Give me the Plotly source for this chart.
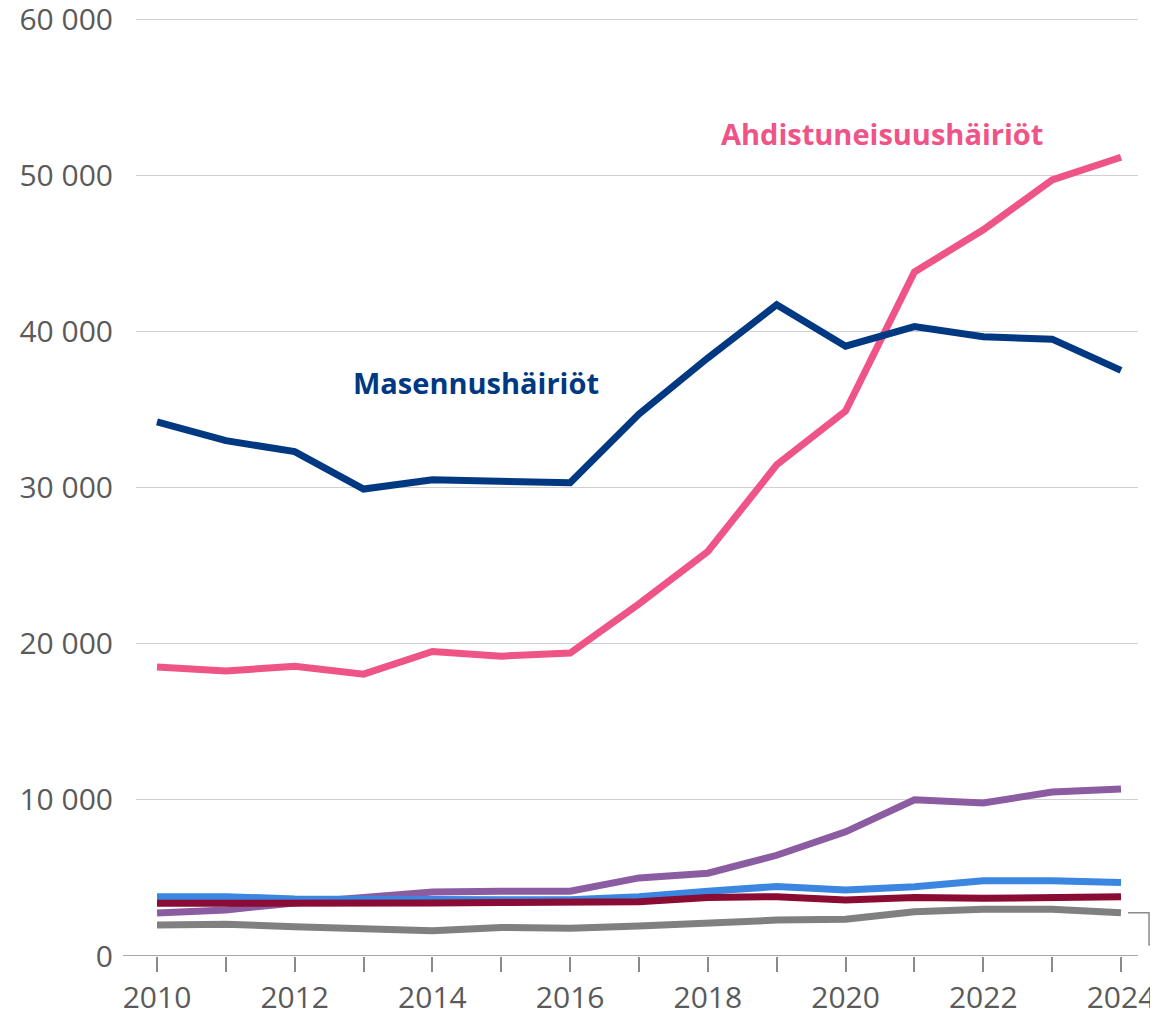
import plotly.graph_objects as go

years = list(range(2010, 2025))
masennus = [34200, 33000, 32300, 29900, 30500, 30350, 30300, 34700, 38300, 41700, 39050, 40300, 39650, 39500, 37500]
ahdistus = [18500, 18250, 18550, 18050, 19500, 19200, 19400, 22550, 25900, 31450, 34900, 43800, 46500, 49700, 51150]
purple_s = [2750, 2950, 3400, 3700, 4100, 4150, 4150, 5000, 5300, 6450, 7950, 10000, 9800, 10500, 10700]
blue_s = [3800, 3800, 3650, 3600, 3600, 3600, 3600, 3800, 4150, 4450, 4230, 4430, 4820, 4820, 4700]
red_s = [3370, 3370, 3370, 3300, 3400, 3430, 3450, 3480, 3750, 3800, 3590, 3750, 3690, 3750, 3800]
gray_s = [1980, 2030, 1880, 1750, 1620, 1830, 1770, 1920, 2150, 2300, 2350, 2840, 2990, 2990, 2770]

y_ticks = [0, 10000, 20000, 30000, 40000, 50000, 60000]
y_labels = ["0", "10 000", "20 000", "30 000", "40 000", "50 000", "60 000"]
x_labels = [str(y) if y % 2 == 0 else "" for y in years]

series = [
    (gray_s, "#808080"),
    (purple_s, "#8c5ca3"),
    (blue_s, "#3a86e0"),
    (red_s, "#8a0b33"),
    (ahdistus, "#ef5487"),
    (masennus, "#003882"),
]

fig = go.Figure()
for vals, col in series:
    fig.add_trace(go.Scatter(x=years, y=vals, mode="lines",
                             line=dict(color=col, width=7), showlegend=False,
                             hoverinfo="skip"))

fig.add_annotation(x=2014.63, y=36700, text="<b>Masennushäiriöt</b>", showarrow=False,
                   font=dict(family="Open Sans", size=29, color="#003882"))
fig.add_annotation(x=2020.53, y=52700, text="<b>Ahdistuneisuushäiriöt</b>", showarrow=False,
                   font=dict(family="Open Sans", size=29, color="#ef5487"))

# baseline at zero extending left
fig.add_shape(type="line", xref="paper", yref="y", x0=-0.013, x1=1.0, y0=0, y1=0,
              line=dict(color="#8a8a8a", width=1.5))
# leader bracket for the gray series
fig.add_shape(type="path", xref="paper", yref="y",
              path=f"M 0.990 {gray_s[-1]} L 1.011 {gray_s[-1]} L 1.011 {gray_s[-1]-2050} L 1.03 {gray_s[-1]-2050}",
              line=dict(color="#8a8a8a", width=1.5))

fig.update_layout(
    width=1150, height=1002,
    margin=dict(l=128, r=20, t=6, b=54),
    plot_bgcolor="white", paper_bgcolor="white",
    font=dict(family="Open Sans", color="#5a5a5a"),
    xaxis=dict(range=[2009.695, 2024.247], tickvals=years, ticktext=x_labels,
               ticks="outside", ticklen=15, tickcolor="#8a8a8a", tickwidth=1.5,
               showgrid=False, zeroline=False, showline=False, automargin=False,
               ticklabeloverflow="allow",
               tickfont=dict(size=30, color="#5a5a5a")),
    yaxis=dict(range=[0, 60320], tickvals=y_ticks, ticktext=y_labels,
               showgrid=True, gridcolor="#d0d0d0", gridwidth=1.2,
               zeroline=False, showline=False, ticks="", automargin=False,
               ticklabelstandoff=22, ticklabeloverflow="allow",
               tickfont=dict(size=30, color="#5a5a5a")),
)

fig.write_html("out.html")
